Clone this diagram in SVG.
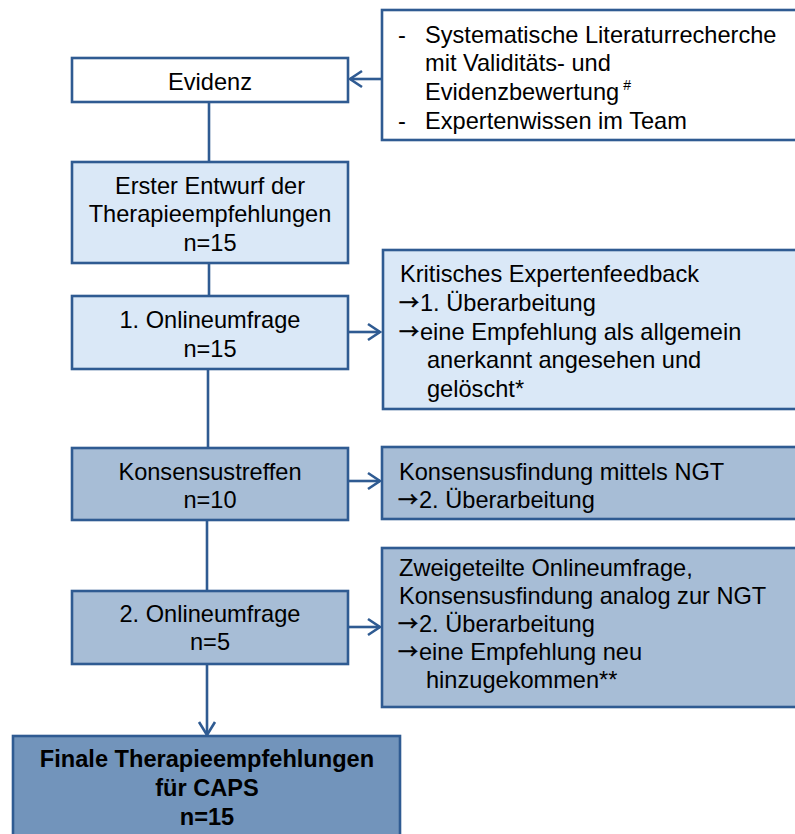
<svg xmlns="http://www.w3.org/2000/svg" width="795" height="834" viewBox="0 0 795 834">
  <defs>
    <style>
      .box { stroke: #2F5B92; stroke-width: 2.6; }
      .white { fill: #FFFFFF; }
      .light { fill: #DAE8F7; }
      .mid { fill: #A7BDD6; }
      .dark { fill: #7294BB; }
      .t { font-family: "Liberation Sans", Arial, sans-serif; font-size: 23.6px; fill: #000000; }
      .arr { font-family: "Noto Sans CJK SC", sans-serif; font-size: 20px; fill: #000000; stroke: #000000; stroke-width: 0.6; }
      .c { text-anchor: middle; }
      .b { font-weight: bold; }
      .sup { font-size: 14px; }
      .line { stroke: #2F5B92; stroke-width: 2.6; fill: none; }
    </style>
  </defs>

  <!-- connectors -->
  <g id="connectors">
    <line class="line" x1="209" y1="102" x2="209" y2="162"/>
    <line class="line" x1="209" y1="263" x2="209" y2="296"/>
    <line class="line" x1="208" y1="369" x2="208" y2="448"/>
    <line class="line" x1="207" y1="520" x2="207" y2="591"/>
    <line class="line" x1="207" y1="664" x2="207" y2="735"/>
    <polyline class="line" points="199,722 207,735 215,722"/>
    <!-- sources into Evidenz -->
    <line class="line" x1="382" y1="79" x2="350" y2="79"/>
    <polyline class="line" points="362,71 350,79 362,87"/>
    <!-- results to the side -->
    <line class="line" x1="348" y1="332" x2="380" y2="332"/>
    <polyline class="line" points="368,324 380,332 368,340"/>
    <line class="line" x1="348" y1="481" x2="380" y2="481"/>
    <polyline class="line" points="368,473 380,481 368,489"/>
    <line class="line" x1="348" y1="627" x2="380" y2="627"/>
    <polyline class="line" points="368,619 380,627 368,635"/>
  </g>

  <g id="sources">
    <rect class="box white" x="382" y="10" width="430" height="130"/>
    <text class="t" x="398" y="43">-</text>
    <text class="t" x="425" y="43">Systematische Literaturrecherche</text>
    <text class="t" x="425" y="71">mit Validitäts- und</text>
    <text class="t" x="425" y="100">Evidenzbewertung<tspan class="sup" dx="4" dy="-10">#</tspan></text>
    <text class="t" x="398" y="129">-</text>
    <text class="t" x="425" y="129">Expertenwissen im Team</text>
  </g>

  <g id="evidenz">
    <rect class="box white" x="72" y="58" width="276" height="44"/>
    <text class="t c" x="210" y="90">Evidenz</text>
  </g>

  <g id="entwurf">
    <rect class="box light" x="72" y="162" width="276" height="101"/>
    <text class="t c" x="210" y="194">Erster Entwurf der</text>
    <text class="t c" x="210" y="222">Therapieempfehlungen</text>
    <text class="t c" x="210" y="251">n=15</text>
  </g>

  <g id="umfrage1">
    <rect class="box light" x="72" y="296" width="276" height="73"/>
    <text class="t c" x="210" y="328">1. Onlineumfrage</text>
    <text class="t c" x="210" y="357">n=15</text>
  </g>

  <g id="feedback">
    <rect class="box light" x="383" y="250" width="430" height="159"/>
    <text class="t" x="400" y="282">Kritisches Expertenfeedback</text>
    <text class="arr" x="399" y="310">→</text>
    <text class="t" x="420" y="311">1. Überarbeitung</text>
    <text class="arr" x="399" y="339">→</text>
    <text class="t" x="420" y="340">eine Empfehlung als allgemein</text>
    <text class="t" x="427" y="368">anerkannt angesehen und</text>
    <text class="t" x="427" y="397">gelöscht*</text>
  </g>

  <g id="konsensustreffen">
    <rect class="box mid" x="72" y="448" width="276" height="72"/>
    <text class="t c" x="210" y="480">Konsensustreffen</text>
    <text class="t c" x="210" y="508">n=10</text>
  </g>

  <g id="ngt">
    <rect class="box mid" x="382" y="447" width="430" height="72"/>
    <text class="t" x="399" y="480">Konsensusfindung mittels NGT</text>
    <text class="arr" x="398" y="507">→</text>
    <text class="t" x="419" y="508">2. Überarbeitung</text>
  </g>

  <g id="umfrage2">
    <rect class="box mid" x="72" y="591" width="276" height="73"/>
    <text class="t c" x="210" y="622">2. Onlineumfrage</text>
    <text class="t c" x="210" y="650">n=5</text>
  </g>

  <g id="zweigeteilt">
    <rect class="box mid" x="382" y="548" width="430" height="159"/>
    <text class="t" x="399" y="576">Zweigeteilte Onlineumfrage,</text>
    <text class="t" x="399" y="604">Konsensusfindung analog zur NGT</text>
    <text class="arr" x="398" y="631">→</text>
    <text class="t" x="419" y="632">2. Überarbeitung</text>
    <text class="arr" x="398" y="659">→</text>
    <text class="t" x="419" y="660">eine Empfehlung neu</text>
    <text class="t" x="426" y="688">hinzugekommen**</text>
  </g>

  <g id="final">
    <rect class="box dark" x="13" y="736" width="387" height="120"/>
    <text class="t c b" x="207" y="767">Finale Therapieempfehlungen</text>
    <text class="t c b" x="207" y="796">für CAPS</text>
    <text class="t c b" x="207" y="825">n=15</text>
  </g>
</svg>
